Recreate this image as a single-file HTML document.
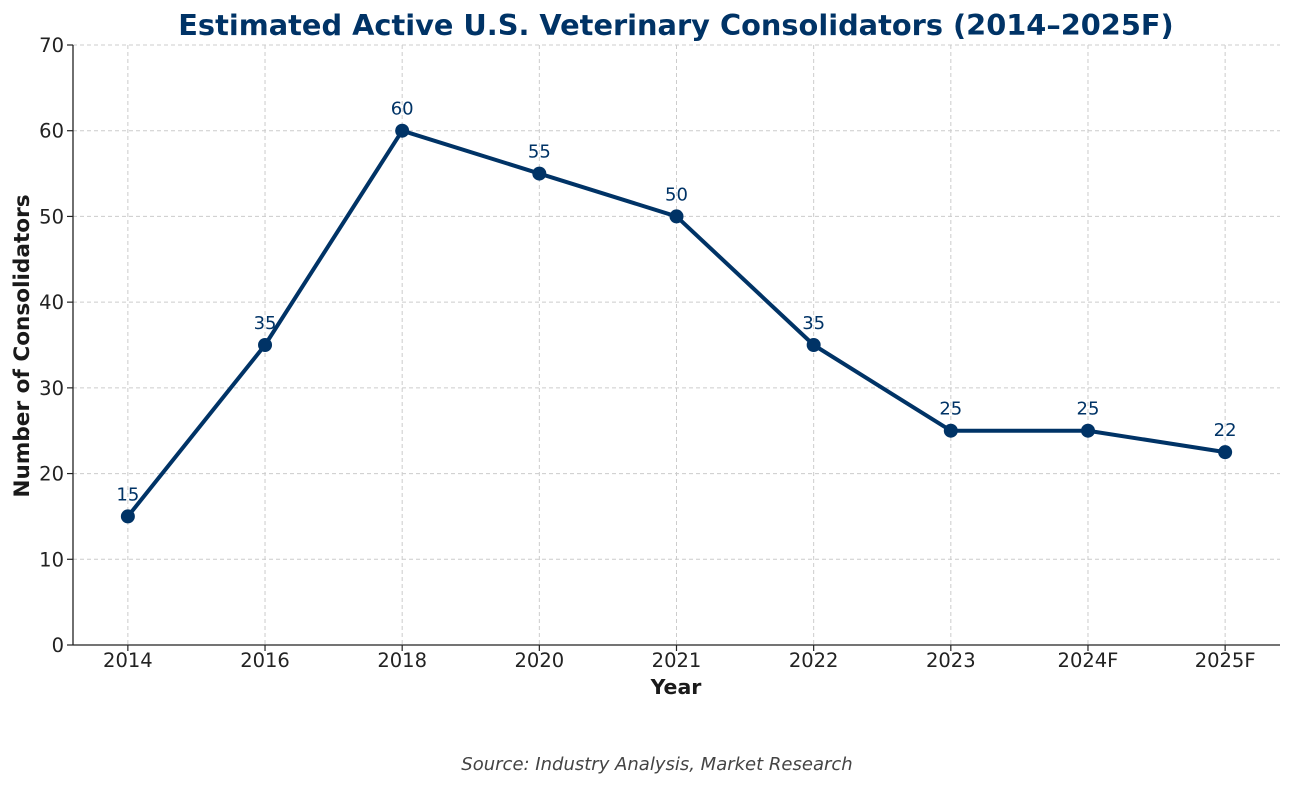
<!DOCTYPE html>
<html><head><meta charset="utf-8"><style>
html,body{margin:0;padding:0;background:#fff;}
svg{display:block;font-family:"DejaVu Sans","Liberation Sans",sans-serif;}
</style></head><body>
<svg id="chart" width="1292" height="786" viewBox="0 0 1292 786">
<text x="676" y="35" text-anchor="middle" font-size="28.8" font-weight="bold" fill="#003366">Estimated Active U.S. Veterinary Consolidators (2014–2025F)</text>
<g id="grid"></g>
<g id="axes"></g>
<g id="series"></g>
<text x="676" y="694" text-anchor="middle" font-size="20.5" font-weight="bold" fill="#1a1a1a">Year</text>
<text transform="translate(29,346) rotate(-90)" text-anchor="middle" font-size="21.6" font-weight="bold" fill="#1a1a1a">Number of Consolidators</text>
<text x="657" y="770" text-anchor="middle" font-size="18" font-style="italic" fill="#444">Source: Industry Analysis, Market Research</text>
</svg>
<script>
const categories = ["2014","2016","2018","2020","2021","2022","2023","2024F","2025F"];
const values = [15,35,60,55,50,35,25,25,22.5];
const pointLabels = ["15","35","60","55","50","35","25","25","22"];
const yTicks = [0,10,20,30,40,50,60,70];

const NS="http://www.w3.org/2000/svg";
const L=73,R=1280,T=45,B=645;
const xMin=-0.4,xMax=8.4,yMin=0,yMax=70;
function xs(i){return L+(i-xMin)/(xMax-xMin)*(R-L);}
function ys(v){return B-(v-yMin)/(yMax-yMin)*(B-T);}
function mk(tag,attrs,parent){const e=document.createElementNS(NS,tag);for(const k in attrs)e.setAttribute(k,attrs[k]);parent.appendChild(e);return e;}
const grid=document.getElementById('grid'),axes=document.getElementById('axes'),series=document.getElementById('series');

yTicks.forEach(t=>{
  const y=ys(t);
  const g=mk('line',{x1:L,x2:R,y1:y,y2:y,stroke:'#cccccc','stroke-width':1,'stroke-dasharray':'4,3'},grid);
  
  
  mk('line',{x1:L-6,x2:L,y1:y,y2:y,stroke:'#222','stroke-width':1.2},axes);
  const tx=mk('text',{x:L-9,y:y+7,'text-anchor':'end','font-size':19.5,fill:'#222'},axes);
  tx.textContent=t;
  
  
});
categories.forEach((c,i)=>{
  const x=xs(i);
  const g=mk('line',{x1:x,x2:x,y1:T,y2:B,stroke:'#cccccc','stroke-width':1,'stroke-dasharray':'4,3'},grid);
  
  
  mk('line',{x1:x,x2:x,y1:B,y2:B+6,stroke:'#222','stroke-width':1.2},axes);
  const tx=mk('text',{x:x,y:B+22,'text-anchor':'middle','font-size':19.5,fill:'#222'},axes);
  tx.textContent=c;
  
  
});
const ya=mk('line',{x1:L,x2:L,y1:T,y2:B,stroke:'#222','stroke-width':1.3},axes);


const xa=mk('line',{x1:L,x2:R,y1:B,y2:B,stroke:'#222','stroke-width':1.3},axes);



const pts=values.map((v,i)=>xs(i)+','+ys(v)).join(' ');
const line=mk('polyline',{points:pts,fill:'none',stroke:'#003366','stroke-width':4,'stroke-linejoin':'round'},series);


values.forEach((v,i)=>{
  const c=mk('circle',{cx:xs(i),cy:ys(v),r:7,fill:'#003366'},series);
  
  
  const t=mk('text',{x:xs(i),y:ys(v)-16,'text-anchor':'middle','font-size':18,fill:'#003366'},series);
  t.textContent=pointLabels[i];
  
  
});
</script>
</body></html>
